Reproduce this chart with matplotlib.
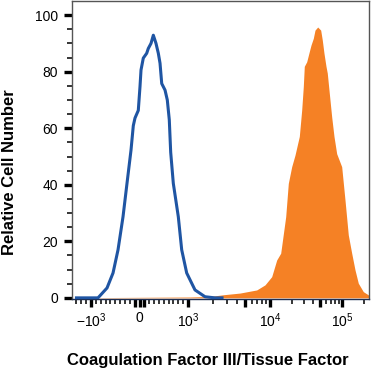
"""Histogramme cytométrie — Tissue Factor vs isotype."""
import numpy as np
import matplotlib
matplotlib.use("Agg")
import matplotlib.pyplot as plt
from matplotlib.ticker import FixedLocator, FixedFormatter

plt.rcParams["font.family"] = ["Liberation Sans", "DejaVu Sans"]
plt.rcParams["mathtext.fontset"] = "custom"
plt.rcParams["mathtext.rm"] = "Liberation Sans"

# isotype control (blue line), intensity in fluorescence units
iso_x = [-1300, -856, -670, -546, -443, -340, -258, -175, -128, -93, -25, 10,
         31, 78, 148, 181, 237, 285, 340, 388, 423, 458, 526, 573, 614, 643,
         697, 800, 870, 973, 1217, 1612, 2133, 2600]
iso_y = [0, 0, 3.5, 8.8, 17, 28.7, 40.5, 52.3, 60.9, 63.6, 66.3, 74.7,
         80.6, 84.8, 86.5, 88.2, 90, 92.9, 90, 86.5, 83, 75.8, 73.5, 70, 63, 51.5,
         40.5, 28.7, 17, 8.8, 2.8, 0.4, 0, 0]

# anti-Tissue Factor stained cells (orange fill)
tf_x = [-830, 1058, 1855, 2695, 4306, 6883, 8690, 10558, 12390, 14080, 16520,
        17960, 20010, 22240, 25530, 27550, 29010, 29950, 32340, 35140, 37100,
        39950, 42170, 45980, 50600, 53250, 56230, 59950, 62480, 66630, 71940,
        77430, 84400, 99040, 110100, 122300, 136400, 151600, 168400, 197600,
        241000]
tf_y = [0.1, 0.3, 0.5, 1.1, 1.7, 2.8, 4.6, 7.5, 13.4, 15.8, 28.7,
        40.5, 46.4, 50.5, 57.1, 66.4, 74.7, 81.9, 83.5, 87.1, 89.4,
        91.8, 94.7, 95.8, 94.7, 91.2, 86.5, 81.9, 79.5, 72.4, 64,
        57.1, 51, 46.4, 34.6, 22.3, 15.8, 9.9, 5.2, 2.2,
        0.8]

major_x = [-1000, -100, 0, 100, 1000, 5000, 1e4, 5e4, 1e5]
major_lbl = [r"$\mathregular{-10^3}$", "", "0", "", r"$\mathregular{10^3}$", "",
             r"$\mathregular{10^4}$", "", r"$\mathregular{10^5}$"]

# échelle type logicle : linéaire +/-1000 puis deux décades log
LIN_W, DEC1, DEC2 = 48.5, 82.0, 72.0


def fwd(v):
    v = np.asarray(v, dtype=float)
    vv = np.maximum(v, 1000.0)
    return np.where(v <= 1000, LIN_W * v / 1000,
                    np.where(v <= 1e4, LIN_W + DEC1 * np.log10(vv / 1000),
                             LIN_W + DEC1 + DEC2 * np.log10(vv / 1e4)))


def inv(d):
    d = np.clip(np.asarray(d, dtype=float), -1e4, 1e3)
    return np.where(d <= LIN_W, d / LIN_W * 1000,
                    np.where(d <= LIN_W + DEC1, 1000 * 10 ** ((d - LIN_W) / DEC1),
                             1e4 * 10 ** ((d - LIN_W - DEC1) / DEC2)))


fig = plt.figure(figsize=(3.72, 3.73), dpi=100)
ax = fig.add_axes([72 / 372, 1 - 299 / 373, 297.5 / 372, 298 / 373])
ax.set_xscale("function", functions=(fwd, inv))

ax.fill_between(tf_x, 0, tf_y, color="#f58125", lw=0, zorder=2)
ax.plot(iso_x, iso_y, color="#1f55a3", lw=2.2, solid_joinstyle="round", zorder=3)

ax.set_xlim(-1392, 241000)
ax.set_ylim(-0.4, 105)

minor_x = [v for v in range(-1300, 1001, 100) if v not in major_x]
minor_x += [k * 1000 for k in (2, 3, 4, 6, 7, 8, 9)]
minor_x += [k * 10000 for k in (2, 3, 4, 6, 7, 8, 9)] + [200000]
ax.xaxis.set_major_locator(FixedLocator(major_x))
ax.xaxis.set_major_formatter(FixedFormatter(major_lbl))
ax.xaxis.set_minor_locator(FixedLocator(minor_x))
ax.yaxis.set_major_locator(FixedLocator(range(0, 101, 20)))
ax.yaxis.set_minor_locator(FixedLocator([v for v in range(0, 101, 5) if v % 20]))

ax.tick_params(which="major", direction="out", length=6, width=2.4,
               labelsize=10, color="black")
ax.tick_params(which="minor", direction="out", length=3.5, width=1.1, color="black")
ax.tick_params(axis="y", which="major", pad=4)
ax.tick_params(axis="x", which="major", pad=3)
for sp in ax.spines.values():
    sp.set_edgecolor("#555555")
    sp.set_linewidth(1)
ax.spines["bottom"].set_edgecolor("#1c2f55")

fig.text(10 / 372, 1 - 172 / 373, "Relative Cell Number", rotation=90,
         ha="center", va="center", fontsize=12, fontweight="bold")
fig.text(207.5 / 372, 1 - 360 / 373, "Coagulation Factor III/Tissue Factor",
         ha="center", va="center", fontsize=12, fontweight="bold")

fig.savefig("out.png", dpi=100)
